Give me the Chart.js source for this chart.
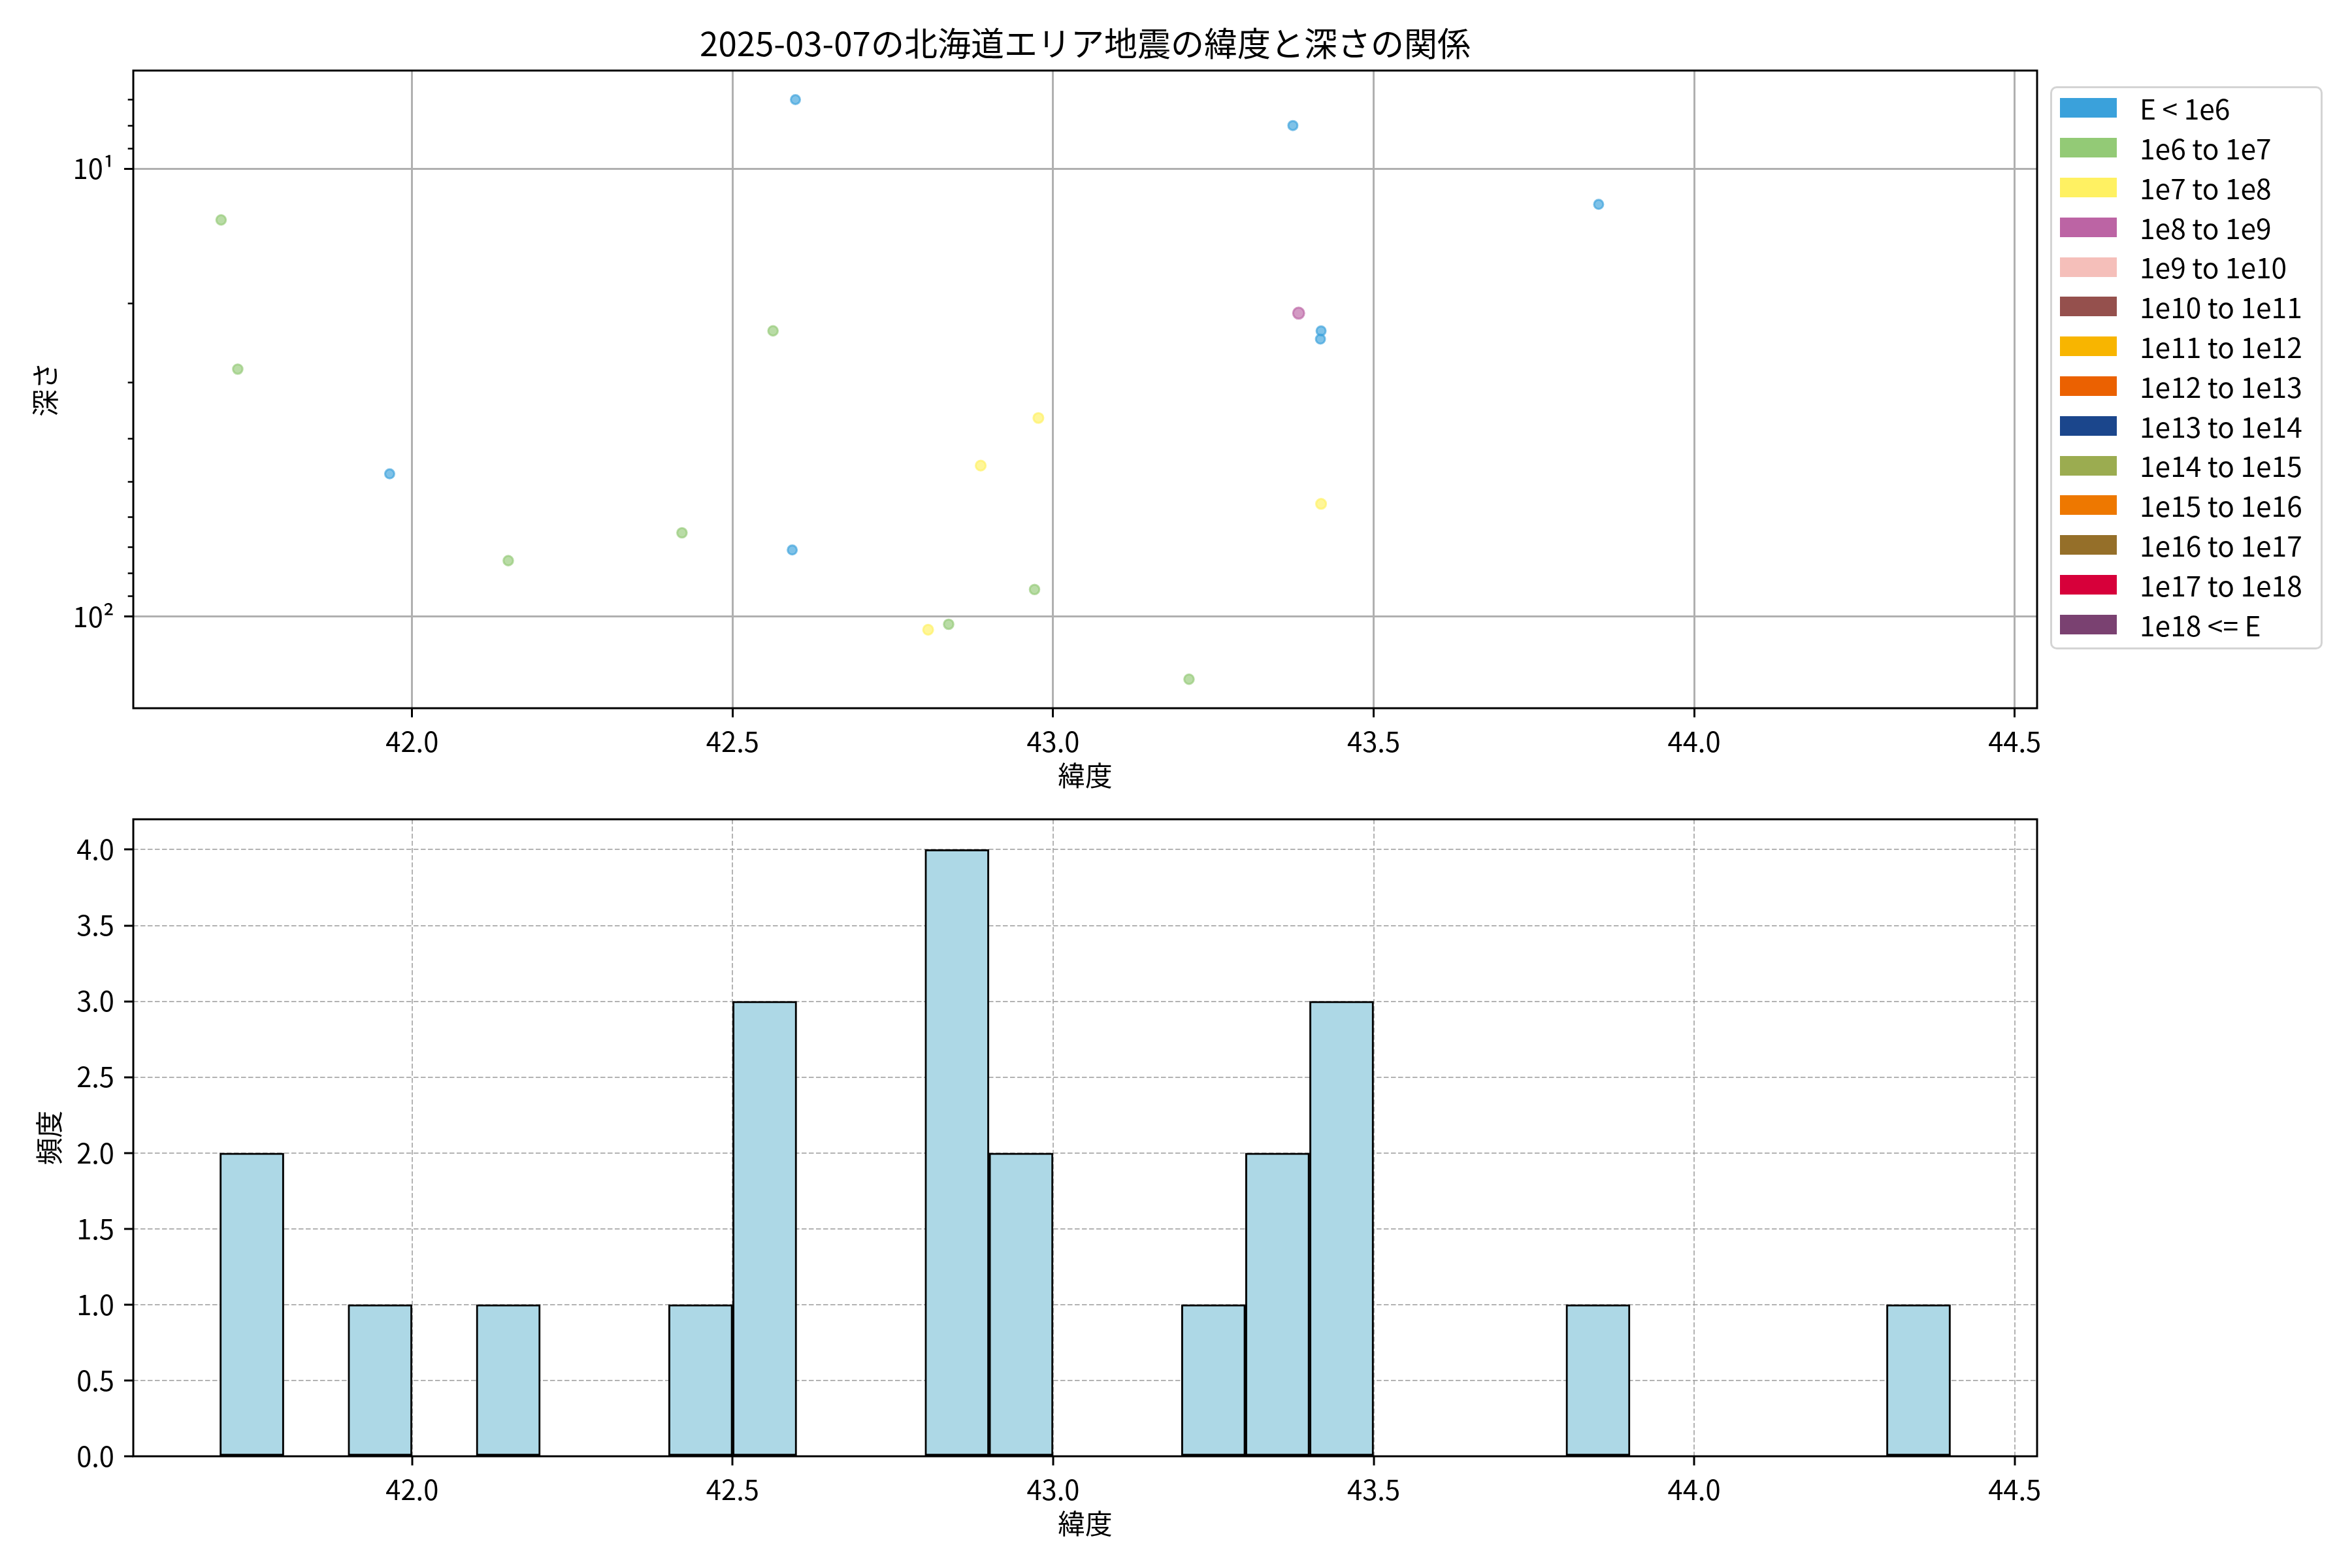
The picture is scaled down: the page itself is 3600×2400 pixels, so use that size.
<!DOCTYPE html>
<html lang="ja">
<head>
<meta charset="utf-8">
<title>北海道エリア地震 緯度と深さ</title>
<script src="https://cdn.jsdelivr.net/npm/chart.js@4.4.1/dist/chart.umd.min.js"></script>
<style>
    html, body { margin: 0; padding: 0; background: #fff; }
    body {
        width: 3600px; height: 2400px; position: relative; overflow: hidden;
        font-family: "Noto Sans CJK JP", "Noto Sans", sans-serif; color: #000;
    }
    #scatterBox { position: absolute; left: 0; top: 0; }
    #histBox { position: absolute; left: 0; top: 1200px; }
    #title {
        position: absolute; left: 204px; width: 2914px; top: 34px;
        text-align: center; font-size: 51px; line-height: 60px; white-space: nowrap;
    }
    #legend {
        position: absolute; left: 3138px; top: 132px; width: 411px;
        padding: 0 0 5px 0; border: 3px solid #d4d4d4; border-radius: 10px; background: #fff;
    }
    .legend-row { height: 60.8px; display: flex; align-items: center; }
    .legend-patch { width: 87px; height: 30px; margin-left: 12px; margin-right: 35px; }
    .legend-text { font-size: 42.5px; line-height: 1; white-space: nowrap; }
</style>
</head>
<body>
<div id="title">2025-03-07の北海道エリア地震の緯度と深さの関係</div>
<div id="scatterBox"><canvas id="scatterChart" width="3200" height="1240"></canvas></div>
<div id="histBox"><canvas id="histChart" width="3200" height="1185"></canvas></div>
<div id="legend"></div>
<script>
// --- data ---
const latitude = [42.598, 43.374, 43.851, 41.702, 43.383, 43.418, 43.417, 42.563, 41.728, 42.977,
                  42.887, 41.965, 43.418, 42.421, 42.593, 42.150, 42.971, 42.837, 42.805, 43.212];
const depth = [7.0, 8.0, 12.0, 13.0, 21.0, 23.0, 24.0, 23.0, 28.0, 36.0,
               46.0, 48.0, 56.0, 65.0, 71.0, 75.0, 87.0, 104.0, 107.0, 138.0];
// energy class index into classLabels
const energyClass = [0, 0, 0, 1, 3, 0, 0, 1, 1, 2,
                     2, 0, 2, 1, 0, 1, 1, 1, 2, 1];

const classLabels = ['E < 1e6', '1e6 to 1e7', '1e7 to 1e8', '1e8 to 1e9', '1e9 to 1e10',
                     '1e10 to 1e11', '1e11 to 1e12', '1e12 to 1e13', '1e13 to 1e14',
                     '1e14 to 1e15', '1e15 to 1e16', '1e16 to 1e17', '1e17 to 1e18', '1e18 <= E'];

const histBinLeft = [41.7, 41.8, 41.9, 42.0, 42.1, 42.2, 42.3, 42.4, 42.5, 42.6, 42.7, 42.8, 42.9, 43.0,
                     43.1, 43.2, 43.3, 43.4, 43.5, 43.6, 43.7, 43.8, 43.9, 44.0, 44.1, 44.2, 44.3];
const histCounts  = [2, 0, 1, 0, 1, 0, 0, 1, 3, 0, 0, 4, 2, 0,
                     0, 1, 2, 3, 0, 0, 0, 1, 0, 0, 0, 0, 1];
const binWidth = 0.1;

const latTicks = [42.0, 42.5, 43.0, 43.5, 44.0, 44.5];
const depthTicks = [7, 8, 9, 10, 20, 30, 40, 50, 60, 70, 80, 90, 100];
const depthMajor = [10, 100];
const freqTicks = [0, 0.5, 1.0, 1.5, 2.0, 2.5, 3.0, 3.5, 4.0];
const latRange = [41.565, 44.535];
const depthRange = [6.03, 160.2];
const freqRange = [0, 4.2];

// --- styles ---
const classColors = ['#3AA1DB', '#93CA76', '#FFF162', '#BC64A4', '#F5BFBA', '#95504D', '#F8B500',
                     '#EB6101', '#1B468C', '#9BAC50', '#EE7800', '#956F29', '#D7003A', '#7A4171'];
const classRadius = [7, 7.3, 7.6, 8.5, 8.5, 8.5, 8.5, 8.5, 8.5, 8.5, 8.5, 8.5, 8.5, 8.5];

const withAlpha = (hex, a) => {
    const n = parseInt(hex.slice(1), 16);
    return `rgba(${(n >> 16) & 255}, ${(n >> 8) & 255}, ${n & 255}, ${a})`;
};
const superscript = { '1': '¹', '2': '²', '3': '³' };

Chart.defaults.font.family = "'Noto Sans CJK JP', 'Noto Sans', sans-serif";
Chart.defaults.font.size = 41.7;
Chart.defaults.color = '#000';

// box round the plotting area, like matplotlib spines
const framePlugin = {
    id: 'frame',
    afterDraw(chart) {
        const { ctx, chartArea: a } = chart;
        ctx.save();
        ctx.strokeStyle = '#000';
        ctx.lineWidth = 3;
        ctx.strokeRect(a.left, a.top, a.right - a.left, a.bottom - a.top);
        ctx.restore();
    }
};

const baseOptions = {
    responsive: false,
    animation: false,
    devicePixelRatio: 1,
    plugins: { legend: { display: false }, tooltip: { enabled: false } }
};

const latAxis = (gridExtra, borderExtra) => ({
    type: 'linear',
    min: latRange[0],
    max: latRange[1],
    offset: false,
    afterBuildTicks: s => { s.ticks = latTicks.map(v => ({ value: v })); },
    afterFit: s => { s.height = 156; },
    ticks: { autoSkip: false, maxRotation: 0, padding: 12, callback: v => Number(v).toFixed(1) },
    grid: { offset: false, tickLength: 14, tickWidth: 3, tickColor: '#000', tickBorderDash: [], ...gridExtra },
    border: { display: false, ...borderExtra },
    title: { display: true, text: '緯度', padding: { top: 0, bottom: 28 } }
});

// 1. scatter: latitude vs depth (log, inverted)
const scatterSets = classLabels.map((label, k) => ({
    label,
    data: latitude
        .map((lat, i) => ({ x: lat, y: depth[i], c: energyClass[i] }))
        .filter(p => p.c === k),
    backgroundColor: withAlpha(classColors[k], 0.65),
    borderColor: withAlpha(classColors[k], 0.65),
    borderWidth: 3,
    pointRadius: classRadius[k]
}));

new Chart(document.getElementById('scatterChart').getContext('2d'), {
    type: 'scatter',
    data: { datasets: scatterSets },
    options: {
        ...baseOptions,
        layout: { padding: { top: 108, left: 0, right: 82, bottom: 0 } },
        scales: {
            x: latAxis({ color: '#b0b0b0', lineWidth: 3 }, {}),
            y: {
                type: 'logarithmic',
                reverse: true,
                min: depthRange[0],
                max: depthRange[1],
                afterBuildTicks: s => { s.ticks = depthTicks.map(v => ({ value: v })); },
                afterFit: s => { s.width = 204; },
                ticks: {
                    autoSkip: false,
                    padding: 15,
                    callback: v => depthMajor.includes(v)
                        ? '10' + superscript[String(Math.round(Math.log10(v)))] : ''
                },
                grid: {
                    color: c => depthMajor.includes(c.tick.value) ? '#b0b0b0' : 'rgba(0,0,0,0)',
                    lineWidth: 3,
                    tickLength: 14,
                    tickColor: '#000',
                    tickWidth: c => depthMajor.includes(c.tick.value) ? 3 : 2.5,
                    tickBorderDash: c => depthMajor.includes(c.tick.value) ? [] : [0, 5.7, 8.3, 40]
                },
                border: { display: false },
                title: { display: true, text: '深さ', padding: { top: 44, bottom: 0 } }
            }
        }
    },
    plugins: [framePlugin]
});

// 2. histogram of latitude
new Chart(document.getElementById('histChart').getContext('2d'), {
    type: 'bar',
    data: {
        datasets: [{
            data: histBinLeft.map((left, i) => ({ x: left + binWidth / 2, y: histCounts[i] })),
            backgroundColor: '#ADD8E6',
            borderColor: '#000',
            borderWidth: 3,
            borderSkipped: false,
            barPercentage: 1,
            categoryPercentage: 1
        }]
    },
    options: {
        ...baseOptions,
        layout: { padding: { top: 54, left: 0, right: 82, bottom: 0 } },
        scales: {
            x: {
                ...latAxis({ color: 'rgba(160,160,160,0.8)', lineWidth: 2 }, { dash: [7.5, 3.5] }),
                z: 1
            },
            y: {
                type: 'linear',
                min: freqRange[0],
                max: freqRange[1],
                z: 1,
                afterBuildTicks: s => { s.ticks = freqTicks.map(v => ({ value: v })); },
                afterFit: s => { s.width = 204; },
                ticks: { autoSkip: false, padding: 15, callback: v => Number(v).toFixed(1) },
                grid: { color: 'rgba(160,160,160,0.8)', lineWidth: 2, tickLength: 14, tickWidth: 3,
                        tickColor: '#000', tickBorderDash: [] },
                border: { display: false, dash: [7.5, 3.5] },
                title: { display: true, text: '頻度', padding: { top: 50, bottom: 0 } }
            }
        }
    },
    plugins: [framePlugin]
});

// legend (matplotlib-style patches)
const legendEl = document.getElementById('legend');
classLabels.forEach((label, k) => {
    const row = document.createElement('div');
    row.className = 'legend-row';
    const patch = document.createElement('div');
    patch.className = 'legend-patch';
    patch.style.background = classColors[k];
    const text = document.createElement('span');
    text.className = 'legend-text';
    text.textContent = label;
    row.appendChild(patch);
    row.appendChild(text);
    legendEl.appendChild(row);
});
</script>
</body>
</html>
